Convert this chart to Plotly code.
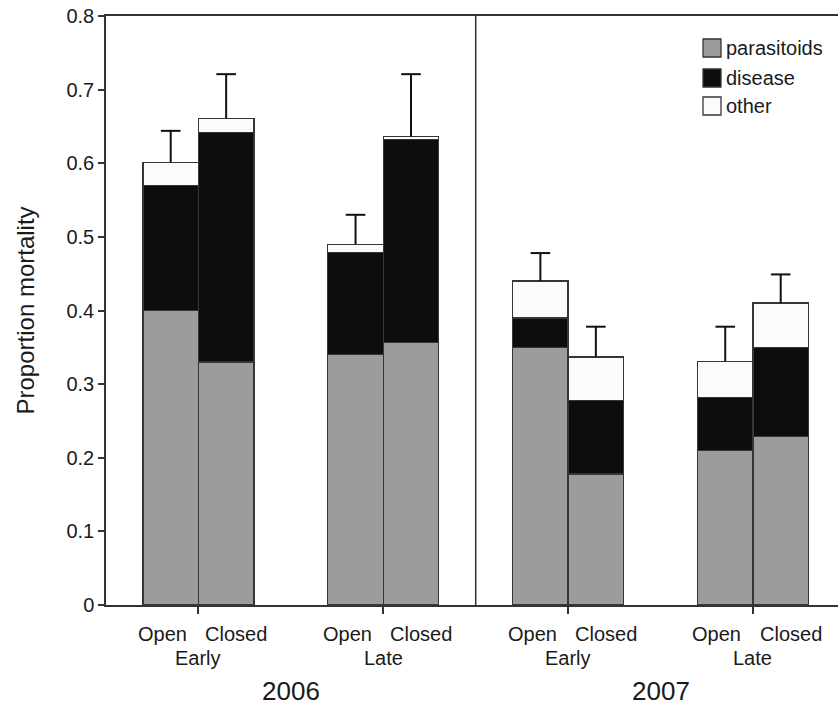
import plotly.graph_objects as go

# Mortality components per treatment (stacked), with upward standard errors
years = ["2006", "2007"]
periods = ["Early", "Late", "Early", "Late"]
canopy = ["Open", "Closed"]
causes = ["parasitoids", "disease", "other"]

parasitoids = [0.40, 0.33, 0.34, 0.357, 0.35, 0.178, 0.21, 0.229]
disease = [0.17, 0.312, 0.139, 0.275, 0.04, 0.10, 0.072, 0.121]
other = [0.031, 0.019, 0.011, 0.004, 0.05, 0.059, 0.049, 0.06]
std_err = [0.043, 0.06, 0.04, 0.085, 0.038, 0.041, 0.047, 0.039]

y_ticks = [0, 0.1, 0.2, 0.3, 0.4, 0.5, 0.6, 0.7, 0.8]
y_tick_text = ["0", "0.1", "0.2", "0.3", "0.4", "0.5", "0.6", "0.7", "0.8"]

colors = {"parasitoids": "#9c9c9c", "disease": "#0d0d0d", "other": "#fbfbfb"}
edge = "#363636"
err_color = "#111111"
font_family = "Liberation Sans, Arial, sans-serif"
text_color = "#1a1a1a"

offset = 0.15
bar_w = 0.30
group_pos = list(range(len(periods)))
x_pos = []
for g in group_pos:
    x_pos += [g - offset, g + offset]

fig = go.Figure()
series = {"parasitoids": parasitoids, "disease": disease, "other": other}
for name in causes:
    fig.add_trace(go.Bar(
        x=x_pos, y=series[name], width=bar_w, name=name,
        marker=dict(color=colors[name], line=dict(color=edge, width=1.3)),
        showlegend=False))

# Upper-only error bars: stem from the stack top, cap at top + SE
totals = [p + d + o for p, d, o in zip(parasitoids, disease, other)]
stem_x, stem_y = [], []
for xp, tot, se in zip(x_pos, totals, std_err):
    stem_x += [xp, xp, None]
    stem_y += [tot, tot + se, None]
fig.add_trace(go.Scatter(x=stem_x, y=stem_y, mode="lines",
                         line=dict(color=err_color, width=2),
                         showlegend=False, hoverinfo="skip"))
fig.add_trace(go.Scatter(x=x_pos, y=[t + s for t, s in zip(totals, std_err)],
                         mode="markers",
                         marker=dict(symbol="line-ew", size=14,
                                     line=dict(color=err_color, width=2)),
                         showlegend=False, hoverinfo="skip"))

W, H = 838, 706
ml, mr, mt, mb = 106, 0, 16, 101
pw, ph = W - ml - mr, H - mt - mb

annotations = []
for g in group_pos:
    annotations.append(dict(x=g - 0.195, y=0, xref="x", yref="paper", text=canopy[0],
                            showarrow=False, yanchor="middle", yshift=-29,
                            font=dict(size=20)))
    annotations.append(dict(x=g + 0.205, y=0, xref="x", yref="paper", text=canopy[1],
                            showarrow=False, yanchor="middle", yshift=-29,
                            font=dict(size=20)))
    annotations.append(dict(x=g, y=0, xref="x", yref="paper", text=periods[g],
                            showarrow=False, yanchor="middle", yshift=-53,
                            font=dict(size=20)))
for i, yr in enumerate(years):
    annotations.append(dict(x=2 * i + 0.5, y=0, xref="x", yref="paper", text=yr,
                            showarrow=False, yanchor="middle", yshift=-86,
                            height=26, font=dict(size=26)))
annotations.append(dict(x=0, y=0.5, xref="paper", yref="paper",
                        text="Proportion mortality", textangle=-90,
                        showarrow=False, xanchor="center", xshift=-81,
                        font=dict(size=24)))

# Legend keys drawn as squares with labels, top right of the plot
shapes = [dict(type="line", x0=1.5, x1=1.5, y0=0, y1=1, xref="x", yref="paper",
               line=dict(color="#333333", width=1.5))]
key_x0, key_size = 703, 18
row_y = [48, 78, 106]
for name, cy in zip(causes, row_y):
    shapes.append(dict(type="rect", xref="paper", yref="paper",
                       x0=(key_x0 - ml) / pw, x1=(key_x0 + key_size - ml) / pw,
                       y0=(H - mb - (cy + key_size / 2)) / ph,
                       y1=(H - mb - (cy - key_size / 2)) / ph,
                       fillcolor=colors[name], line=dict(color=edge, width=1.3)))
    annotations.append(dict(x=(key_x0 + key_size + 3 - ml) / pw,
                            y=(H - mb - cy) / ph, xref="paper", yref="paper",
                            text=name, showarrow=False, xanchor="left",
                            yanchor="middle", font=dict(size=20)))

fig.update_layout(
    width=W, height=H, margin=dict(l=ml, r=mr, t=mt, b=mb),
    barmode="stack", plot_bgcolor="white", paper_bgcolor="white",
    font=dict(family=font_family, color=text_color, size=20),
    annotations=annotations, shapes=shapes,
    xaxis=dict(range=[-0.5, 3.46], tickvals=group_pos, showticklabels=False,
               ticks="outside", ticklen=7, tickwidth=1.5, tickcolor="#333333",
               showline=True, linecolor="#333333", linewidth=1.5, mirror=True,
               showgrid=False, zeroline=False, fixedrange=True),
    yaxis=dict(range=[0, 0.8], tickvals=y_ticks, ticktext=y_tick_text,
               ticks="outside", ticklen=6, tickwidth=1.5, tickcolor="#333333",
               showline=True, linecolor="#333333", linewidth=1.5,
               showgrid=False, zeroline=False, tickfont=dict(size=20)),
)

fig.write_html("out.html")
